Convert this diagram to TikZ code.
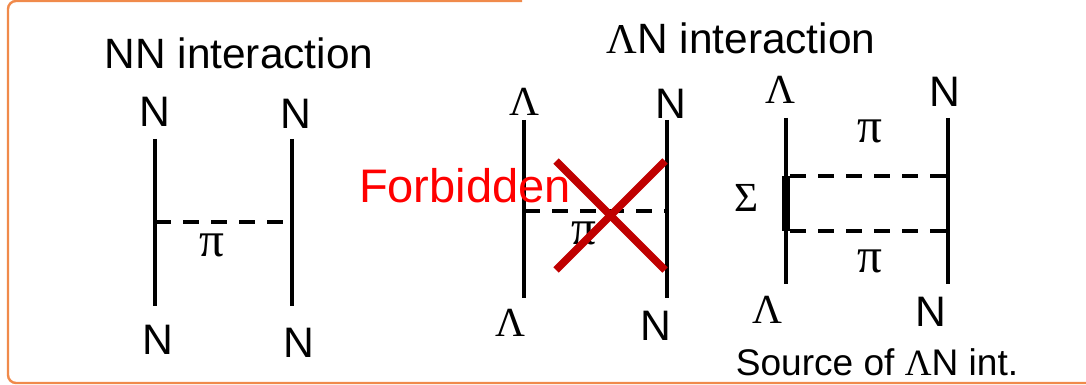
\documentclass[tikz,border=0pt]{standalone}
\usepackage{fontspec}
\setmainfont{Liberation Sans}
\newfontfamily\greekfont{Liberation Serif}
\usepackage{xcolor}
\definecolor{frameorange}{HTML}{F08A4B}
\definecolor{crossred}{HTML}{C00000}
\newcommand{\lam}{{\greekfont Λ}}
\tikzset{
  title/.style={font=\fontsize{31.8}{34}\selectfont,inner sep=0pt},
  particle/.style={font=\fontsize{32}{34}\selectfont,inner sep=0pt},
  greek/.style={font=\fontsize{31}{33}\selectfont\greekfont,inner sep=0pt},
  pilabel/.style={font=\fontsize{37}{39}\selectfont\greekfont,inner sep=0pt},
  leg/.style={line width=3pt},
  pion/.style={line width=3pt,dash pattern=on 12pt off 9pt},
}
\begin{document}
\begin{tikzpicture}[x=0.75pt,y=-0.75pt]
  \useasboundingbox (0,0) rectangle (1086,385);
  % frame
  \draw[frameorange,line width=1.8pt,rounded corners=6pt] (522,1)--(8,1)--(8,383)--(1090,383);
  % NN exchange
  \node[title] (nntitle) at (239,53){NN interaction};
  \node[particle] (nnTL) at (155,112){N};
  \node[particle] (nnTR) at (296,114){N};
  \node[particle] (nnBL) at (158,340){N};
  \node[particle] (nnBR) at (299,343){N};
  \coordinate (nnA) at (155,139); \coordinate (nnB) at (155,306);
  \coordinate (nnC) at (292,139); \coordinate (nnD) at (292,306);
  \coordinate (nnE) at (155,222); \coordinate (nnF) at (292,222);
  \draw[leg] (nnA)--(nnB);
  \draw[leg] (nnC)--(nnD);
  \draw[pion] (nnE)--(nnF);
  \node[pilabel] (nnpi) at (212,245){π};
  % forbidden one pion exchange
  \node[greek] (fbTL) at (524,102){Λ};
  \node[particle] (fbTR) at (671,104){N};
  \node[greek] (fbBL) at (510,323){Λ};
  \node[particle] (fbBR) at (656,326){N};
  \coordinate (fbA) at (524,120); \coordinate (fbB) at (524,298);
  \coordinate (fbC) at (667,120); \coordinate (fbD) at (667,298);
  \coordinate (fbE) at (524,211); \coordinate (fbF) at (667,211);
  \draw[leg] (fbA)--(fbB);
  \draw[leg] (fbC)--(fbD);
  \draw[pion] (fbE)--(fbF);
  \node[pilabel] (fbpi) at (584,233){π};
  \node[title,red,font=\fontsize{35.3}{38}\selectfont] (fbtext) at (465,186){Forbidden};
  \coordinate (xA) at (556,161); \coordinate (xB) at (665,270);
  \coordinate (xC) at (665,161); \coordinate (xD) at (556,270);
  \draw[crossred,line width=5.6pt] (xA)--(xB);
  \draw[crossred,line width=5.6pt] (xC)--(xD);
  % two pion exchange through Sigma
  \node[title] (lntitle) at (741,38){\lam N interaction};
  \node[greek] (srTL) at (780,90){Λ};
  \node[particle] (srTR) at (945,92){N};
  \node[greek] (srBL) at (767,310){Λ};
  \node[particle] (srBR) at (931,312){N};
  \node[greek] (srS) at (747,198){Σ};
  \coordinate (srA) at (786,118); \coordinate (srB) at (786,284);
  \coordinate (srC) at (948,118); \coordinate (srD) at (948,284);
  \coordinate (srE) at (786,176); \coordinate (srF) at (948,176);
  \coordinate (srG) at (786,231); \coordinate (srH) at (948,231);
  \draw[leg] (srA)--(srB);
  \draw[leg] (srC)--(srD);
  \draw[line width=6pt] (srE)--(srG);
  \draw[pion] ([xshift=3pt]srE)--(srF);
  \draw[pion] ([xshift=3pt]srG)--(srH);
  \node[pilabel] (srpiA) at (870,131){π};
  \node[pilabel] (srpiB) at (870,261){π};
  \node[title,font=\fontsize{27.8}{30}\selectfont] (srtext) at (877,362){Source of \lam N int.};
\end{tikzpicture}
\end{document}
